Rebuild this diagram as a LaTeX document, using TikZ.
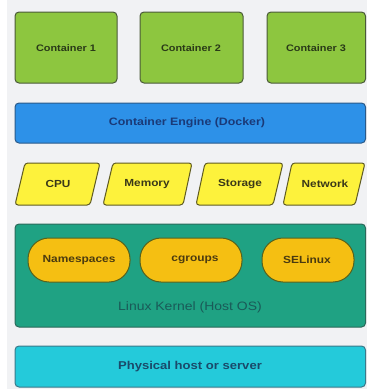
\documentclass[tikz,border=0pt]{standalone}
\usepackage{fontspec}
\setmainfont{Liberation Sans}
\newfontfamily\wideb[FakeStretch=1.15]{Liberation Sans Bold}
\newfontfamily\wider[FakeStretch=1.15]{Liberation Sans}
\definecolor{bgc}{HTML}{F1F2F4}
\definecolor{contf}{HTML}{8DC63F}
\definecolor{contd}{HTML}{4A5A38}
\definecolor{contt}{HTML}{2A3A18}
\definecolor{engf}{HTML}{2D91E8}
\definecolor{engd}{HTML}{2A5A8A}
\definecolor{engt}{HTML}{1A3A78}
\definecolor{resf}{HTML}{FDF23C}
\definecolor{resd}{HTML}{5E5A22}
\definecolor{rest}{HTML}{3A3818}
\definecolor{kerf}{HTML}{1FA283}
\definecolor{kerd}{HTML}{2A6A5A}
\definecolor{kert}{HTML}{1A5A58}
\definecolor{ovf}{HTML}{F5BF12}
\definecolor{ovd}{HTML}{55621E}
\definecolor{ovt}{HTML}{4A3A10}
\definecolor{phyf}{HTML}{24CADA}
\definecolor{phyd}{HTML}{3A7A8A}
\definecolor{phyt}{HTML}{1A4A6A}
\tikzset{
  box/.style={line width=1bp, rounded corners=4bp},
  lbl/.style={inner sep=0pt, anchor=center},
}
\begin{document}
\begin{tikzpicture}[x=1bp,y=-1bp]
\useasboundingbox (0,0) rectangle (367,389);
\fill[white] (0,0) rectangle (367,389);
\fill[bgc] (7,0) rectangle (367,389);
% containers
\draw[box, fill=contf, draw=contd] (15,12) rectangle (117,83);
\draw[box, fill=contf, draw=contd] (140,12) rectangle (243,83);
\draw[box, fill=contf, draw=contd] (267,12) rectangle (365.5,83);
\node[lbl, text=contt, font=\wideb\fontsize{9.5}{11}\selectfont] (c1) at (66,48) {Container 1};
\node[lbl, text=contt, font=\wideb\fontsize{9.5}{11}\selectfont] (c2) at (191,48) {Container 2};
\node[lbl, text=contt, font=\wideb\fontsize{9.5}{11}\selectfont] (c3) at (316,48) {Container 3};
% engine
\draw[box, fill=engf, draw=engd] (15,103) rectangle (365.5,143);
\node[lbl, text=engt, font=\wideb\fontsize{10.8}{12}\selectfont] (eng) at (187,123) {Container Engine (Docker)};
% resources
\tikzset{par/.style={line width=1bp, rounded corners=3bp, fill=resf, draw=resd}}
\draw[par] (25,163) -- (100,163) -- (90,205) -- (15,205) -- cycle;
\draw[par] (113,163) -- (192,163) -- (183,205) -- (103,205) -- cycle;
\draw[par] (205,163) -- (283,163) -- (273,205) -- (196,205) -- cycle;
\draw[par] (292,163) -- (365,163) -- (355,205) -- (283,205) -- cycle;
\node[lbl, text=rest, font=\wideb\fontsize{10.3}{12}\selectfont] (cpu) at (58,184) {CPU};
\node[lbl, text=rest, font=\wideb\fontsize{10.3}{12}\selectfont] (mem) at (147,184) {Memory};
\node[lbl, text=rest, font=\wideb\fontsize{10.3}{12}\selectfont] (sto) at (240,184) {Storage};
\node[lbl, text=rest, font=\wideb\fontsize{10.3}{12}\selectfont] (net) at (325,184) {Network};
% kernel
\draw[box, fill=kerf, draw=kerd] (15,224) rectangle (365.5,327);
\tikzset{ov/.style={line width=1bp, rounded corners=21bp, fill=ovf, draw=ovd}}
\draw[ov] (28,238) rectangle (130,282);
\draw[ov] (140,238) rectangle (242,282);
\draw[ov] (262,238) rectangle (354,282);
\node[lbl, text=ovt, font=\wideb\fontsize{10.4}{12}\selectfont] (ns) at (79,260) {Namespaces};
\node[lbl, text=ovt, font=\wideb\fontsize{10.4}{12}\selectfont] (cg) at (195,260) {cgroups};
\node[lbl, text=ovt, font=\wideb\fontsize{10.4}{12}\selectfont] (se) at (307,260) {SELinux};
\node[lbl, text=kert, font=\wider\fontsize{12.2}{14}\selectfont] (ker) at (190,307) {Linux Kernel (Host OS)};
% physical
\draw[box, fill=phyf, draw=phyd] (15,346) rectangle (365.5,387);
\node[lbl, text=phyt, font=\wideb\fontsize{11.4}{13}\selectfont] (phy) at (190,367) {Physical host or server};
\end{tikzpicture}
\end{document}
